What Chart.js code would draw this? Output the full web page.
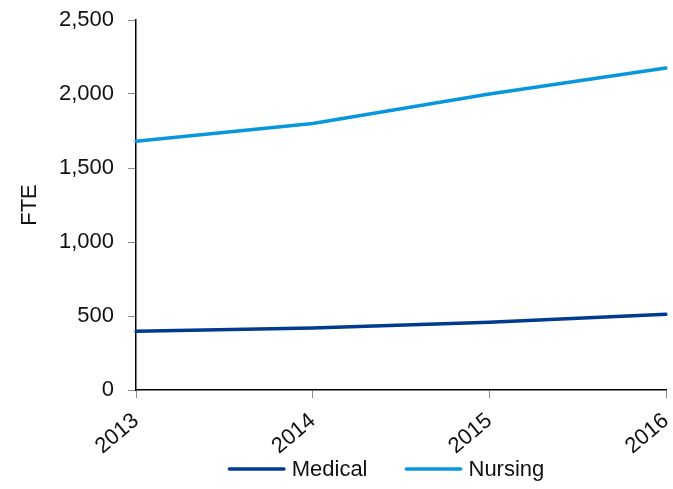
<!DOCTYPE html>
<html>
<head>
<meta charset="utf-8">
<script src="https://cdn.jsdelivr.net/npm/chart.js@4.4.1/dist/chart.umd.min.js"></script>
<style>
  html, body { margin: 0; padding: 0; background: #fff; }
  #wrap { width: 673px; height: 489px; position: relative; }
</style>
</head>
<body>
<div id="wrap"><canvas id="c" width="673" height="489"></canvas></div>
<script>
// Workforce FTE by year
const years = ['2013', '2014', '2015', '2016'];
const medical = [397, 419, 457, 511];
const nursing = [1680, 1800, 2000, 2175];
const yTicks = [0, 500, 1000, 1500, 2000, 2500];

const FONT = "'Liberation Sans', Arial, sans-serif";
const TEXT = '#111111';
const SIZE = 22;

// Bottom legend: a short line in the series colour followed by its name
const lineLegend = {
  id: 'lineLegend',
  afterDraw(chart, _args, opts) {
    const ctx = chart.ctx;
    const sets = chart.data.datasets;
    ctx.save();
    ctx.font = `${SIZE}px ${FONT}`;
    ctx.textBaseline = 'middle';
    ctx.textAlign = 'left';
    const items = sets.map(ds => ({ ds, w: ctx.measureText(ds.label).width }));
    const total = items.reduce((a, it) => a + opts.lineLen + opts.textGap + it.w, 0)
      + opts.itemGap * (items.length - 1);
    let x = opts.centerX - total / 2;
    const y = opts.y;
    items.forEach(({ ds, w }) => {
      ctx.strokeStyle = ds.borderColor;
      ctx.lineWidth = ds.borderWidth;
      ctx.lineCap = 'round';
      ctx.beginPath();
      ctx.moveTo(x + ds.borderWidth / 2, y);
      ctx.lineTo(x + opts.lineLen - ds.borderWidth / 2, y);
      ctx.stroke();
      x += opts.lineLen + opts.textGap;
      ctx.fillStyle = TEXT;
      ctx.fillText(ds.label, x, y + 1);
      x += w + opts.itemGap;
    });
    ctx.restore();
  }
};

new Chart(document.getElementById('c'), {
  type: 'line',
  data: {
    labels: years,
    datasets: [
      {
        label: 'Medical',
        data: medical,
        borderColor: '#023a8e',
        backgroundColor: '#023a8e',
        borderWidth: 3.5,
        borderCapStyle: 'round',
        pointRadius: 0,
        tension: 0
      },
      {
        label: 'Nursing',
        data: nursing,
        borderColor: '#0896dc',
        backgroundColor: '#0896dc',
        borderWidth: 3.5,
        borderCapStyle: 'round',
        pointRadius: 0,
        tension: 0
      }
    ]
  },
  plugins: [lineLegend],
  options: {
    responsive: false,
    animation: false,
    layout: { padding: { top: 20, right: 7, left: 0, bottom: 35 } },
    plugins: {
      tooltip: { enabled: false },
      legend: { display: false },
      lineLegend: { centerX: 386, y: 469, lineLen: 58, textGap: 6, itemGap: 37 }
    },
    scales: {
      x: {
        offset: false,
        grid: {
          drawOnChartArea: false,
          drawTicks: true,
          tickLength: 8,
          color: '#8c8c8c'
        },
        border: { color: '#000', width: 1.5 },
        ticks: {
          color: TEXT,
          font: { family: FONT, size: SIZE },
          maxRotation: 40,
          minRotation: 40,
          padding: 10
        },
        afterFit: (s) => { s.height = 64; s.paddingRight = 0; }
      },
      y: {
        min: 0,
        max: 2500,
        afterBuildTicks: (s) => { s.ticks = yTicks.map(v => ({ value: v })); },
        grid: {
          drawOnChartArea: false,
          drawTicks: true,
          tickLength: 8,
          color: '#8c8c8c'
        },
        border: { color: '#000', width: 1.5 },
        ticks: {
          color: TEXT,
          padding: 14,
          font: { family: FONT, size: SIZE },
          callback: (v) => v.toLocaleString('en-US')
        },
        title: {
          display: true,
          text: 'FTE',
          color: TEXT,
          font: { family: FONT, size: SIZE },
          padding: { top: 17, bottom: 0 }
        },
        afterFit: (s) => { s.width = 136; s.paddingTop = 0; s.paddingBottom = 0; }
      }
    }
  }
});
</script>
</body>
</html>
